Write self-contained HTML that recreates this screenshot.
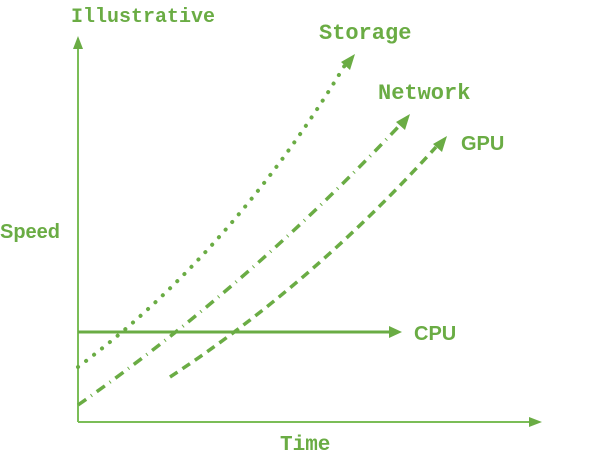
<!DOCTYPE html>
<html><head><meta charset="utf-8"><style>
html,body{margin:0;padding:0;background:#fff;}
svg{display:block}
.m{font-family:"Liberation Mono",monospace;font-weight:bold;fill:#6aac44}
.s{font-family:"Liberation Sans",sans-serif;font-weight:bold;fill:#6aac44}
</style></head><body>
<svg width="610" height="457" viewBox="0 0 610 457" xmlns="http://www.w3.org/2000/svg">
<g stroke="#7bbd57" stroke-width="2" fill="none">
<line x1="78" y1="422" x2="78" y2="48"/>
<line x1="78" y1="422" x2="530" y2="422"/>
</g>
<polygon points="78,36 73,49 83,49" fill="#6aac44"/>
<polygon points="542,422 529,417 529,427" fill="#6aac44"/>
<line x1="78" y1="332" x2="390" y2="332" stroke="#6aac44" stroke-width="3"/>
<polygon points="402,332 389,326 389,338" fill="#6aac44"/>
<g stroke="#6aac44" fill="none">
<path d="M78,367 Q232,252 345,65" stroke-width="4" stroke-dasharray="0.1 10" stroke-linecap="round"/>
<path d="M78,405 Q248,286 400,125" stroke-width="3.5" stroke-dasharray="10 6 1 6"/>
<path d="M170,377 Q312,284 436,147" stroke-width="3.5" stroke-dasharray="9 6"/>
</g>
<polygon points="355,54 341,62 350,70" fill="#6aac44"/>
<polygon points="410,114 396,122 405,130" fill="#6aac44"/>
<polygon points="447,136 433,144 442,152" fill="#6aac44"/>
<text x="71" y="22" class="m" font-size="20">Illustrative</text>
<text x="319" y="39" class="m" font-size="22">Storage</text>
<text x="378" y="99" class="m" font-size="22">Network</text>
<text x="461" y="150" class="s" font-size="20">GPU</text>
<text x="0" y="238" class="s" font-size="20">Speed</text>
<text x="414" y="340" class="s" font-size="20">CPU</text>
<text x="280" y="450" class="m" font-size="21">Time</text>
</svg>
</body></html>
